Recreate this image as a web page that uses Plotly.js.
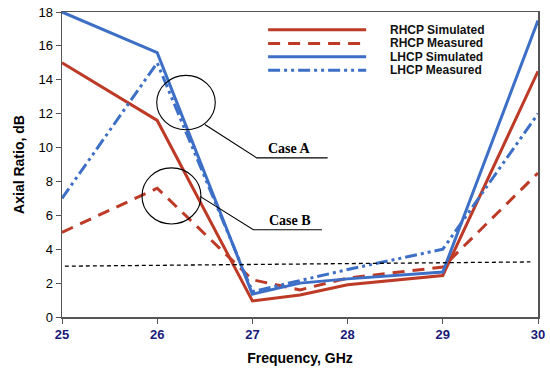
<!DOCTYPE html>
<html><head><meta charset="utf-8">
<script src="https://cdn.plot.ly/plotly-3.0.1.min.js"></script>
<style>html,body{margin:0;padding:0;background:#fff}#chart{width:550px;height:374px}</style>
</head><body><div id="chart"></div>
<script>
const freq = [25, 26, 27, 27.5, 28, 29, 30];
const rhcpSim = [15, 11.6, 0.95, 1.3, 1.9, 2.45, 14.5];
const rhcpMeas = [5, 7.6, 2.2, 1.6, 2.3, 2.95, 8.5];
const lhcpSim = [18, 15.6, 1.35, 2.0, 2.25, 2.65, 17.5];
const lhcpMeas = [7, 15.0, 1.5, 2.15, 2.8, 4.0, 12];
const refX = [25.03, 29.92];
const refY = [3.0, 3.25];
const xTicks = [25, 26, 27, 28, 29, 30];
const yTicks = [0, 2, 4, 6, 8, 10, 12, 14, 16, 18];
const seriesNames = ['RHCP Simulated', 'RHCP Measured', 'LHCP Simulated', 'LHCP Measured'];

const red = '#bd3a27', blue = '#3d6fc6';
const styles = [
  {color: red, width: 3},
  {color: red, width: 3, dash: '12px,8px'},
  {color: blue, width: 3},
  {color: blue, width: 3, dash: '12px,4px,3px,4px,3px,4px'}
];
const seriesY = [rhcpSim, rhcpMeas, lhcpSim, lhcpMeas];
const traces = seriesY.map((ys, i) => ({x: freq, y: ys, name: seriesNames[i], mode: 'lines', line: styles[i]}));
traces.push({x: refX, y: refY, mode: 'lines', name: '3 dB', showlegend: false, hoverinfo: 'skip',
  line: {color: '#000', width: 1.3, dash: '4px,3px'}});

const serif = {family: 'Liberation Serif, DejaVu Serif, serif', size: 14, color: '#000'};

// legend drawn as shapes + text (compact rows like the original)
const legRows = [0.942, 0.897, 0.853, 0.809];
const legShapes = legRows.map((yy, i) => ({type: 'line', xref: 'paper', yref: 'paper',
  x0: 0.433, x1: 0.639, y0: yy, y1: yy, line: styles[i]}));
const legText = legRows.map((yy, i) => ({xref: 'paper', yref: 'paper', x: 0.685, y: yy,
  xanchor: 'left', yanchor: 'middle', showarrow: false, text: '<b>' + seriesNames[i] + '</b>',
  font: {family: 'Liberation Sans, Arial, sans-serif', size: 12, color: '#111'}}));

const layout = {
  width: 550, height: 374,
  margin: {l: 62, r: 12, t: 12, b: 57},
  paper_bgcolor: '#fff', plot_bgcolor: '#fff',
  font: {family: 'Liberation Sans, Arial, sans-serif', size: 12, color: '#000'},
  showlegend: false,
  xaxis: {range: [25, 30], tickvals: xTicks, ticktext: xTicks.map(v => '<b>' + v + '</b>'),
    tickfont: {size: 13, color: '#1a1a78'}, showgrid: false, zeroline: false,
    showline: true, linecolor: '#555', linewidth: 1.5, mirror: true,
    ticks: 'outside', ticklen: 5, tickcolor: '#555',
    title: {text: '<b>Frequency, GHz</b>', font: {size: 14}, standoff: 12}},
  yaxis: {range: [0, 18], tickvals: yTicks, showgrid: false, zeroline: false,
    tickfont: {size: 13},
    showline: true, linecolor: '#555', linewidth: 1.5, mirror: true,
    ticks: 'outside', ticklen: 5, tickcolor: '#555',
    title: {text: '<b>Axial Ratio, dB</b>', font: {size: 14}, standoff: 10}},
  shapes: [
    {type: 'circle', xref: 'x', yref: 'y', x0: 25.995, x1: 26.61, y0: 11.05, y1: 14.26, line: {color: '#000', width: 1.1}},
    {type: 'circle', xref: 'x', yref: 'y', x0: 25.84, x1: 26.46, y0: 5.49, y1: 8.8, line: {color: '#000', width: 1.1}},
    {type: 'path', xref: 'x', yref: 'y', path: 'M26.50,11.36 L27.045,9.39 L27.79,9.39', line: {color: '#000', width: 1.1}},
    {type: 'path', xref: 'x', yref: 'y', path: 'M26.45,7.12 L27.01,5.15 L27.73,5.15', line: {color: '#000', width: 1.1}}
  ].concat(legShapes),
  annotations: [
    {x: 27.39, y: 9.39, xref: 'x', yref: 'y', text: '<b>Case A</b>', showarrow: false, yanchor: 'bottom', font: serif},
    {x: 27.39, y: 5.15, xref: 'x', yref: 'y', text: '<b>Case B</b>', showarrow: false, yanchor: 'bottom', font: serif}
  ].concat(legText)
};
Plotly.newPlot('chart', traces, layout, {displayModeBar: false, staticPlot: true});
</script></body></html>
